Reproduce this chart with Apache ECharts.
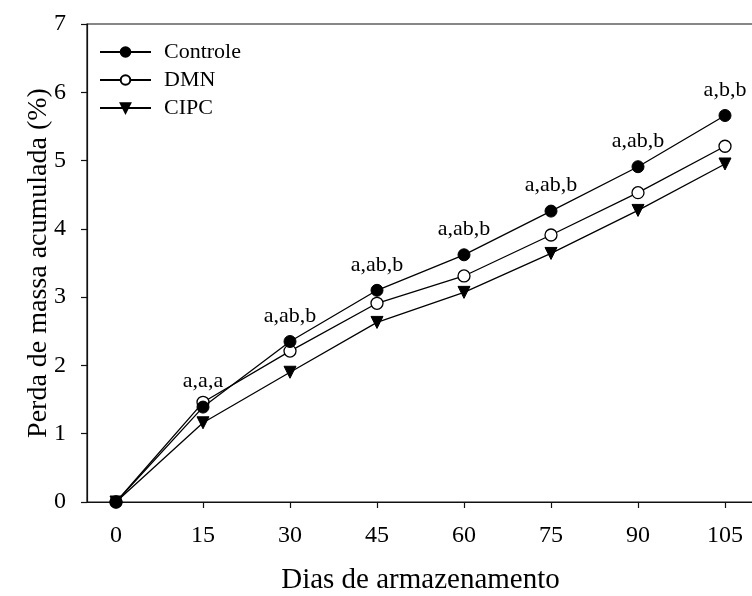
<!DOCTYPE html>
<html>
<head>
<meta charset="utf-8">
<script src="https://cdn.jsdelivr.net/npm/echarts@6/dist/echarts.min.js"></script>
<style>
  html, body { margin: 0; padding: 0; background: #fff; }
  #chart { width: 752px; height: 596px; }
</style>
</head>
<body>
<div id="chart"></div>
<script>
// Storage days and cumulative mass loss (%) per treatment
const days = [0, 15, 30, 45, 60, 75, 90, 105];
const controle = [0, 1.39, 2.35, 3.10, 3.62, 4.26, 4.91, 5.66];
const dmn = [0, 1.46, 2.21, 2.91, 3.31, 3.91, 4.53, 5.21];
const cipc = [0, 1.16, 1.90, 2.63, 3.07, 3.64, 4.27, 4.95];
// Significance letters shown above each storage day
const letters = ['', 'a,a,a', 'a,ab,b', 'a,ab,b', 'a,ab,b', 'a,ab,b', 'a,ab,b', 'a,b,b'];
const yTicks = [0, 1, 2, 3, 4, 5, 6, 7];

const FONT = 'Liberation Serif';
const pairs = arr => days.map((d, i) => [d, arr[i]]);

const chart = echarts.init(document.getElementById('chart'), null, { renderer: 'canvas' });

chart.setOption({
  animation: false,
  backgroundColor: '#fff',
  textStyle: { fontFamily: FONT, color: '#000' },
  grid: {
    left: 87, top: 24, right: -2, bottom: 94,
    outerBoundsMode: 'none',
    containLabel: false,
    show: true, borderColor: '#111', borderWidth: 1.2, backgroundColor: 'transparent'
  },
  legend: {
    orient: 'vertical',
    left: 99, top: 41, padding: 0,
    itemWidth: 51, itemHeight: 12, itemGap: 6,
    textStyle: { fontFamily: FONT, fontSize: 22, color: '#000', padding: [0, 0, 0, 8] },
    data: ['Controle', 'DMN', 'CIPC']
  },
  xAxis: {
    type: 'value',
    min: -5, max: 110,
    name: 'Dias de armazenamento',
    nameLocation: 'middle',
    nameGap: 64,
    nameTextStyle: { fontFamily: FONT, fontSize: 29, color: '#000' },
    axisLine: { onZero: false, lineStyle: { color: '#111', width: 1.2 } },
    axisTick: { show: true, inside: false, length: 6, lineStyle: { color: '#111', width: 1.2 }, customValues: days },
    axisLabel: { fontFamily: FONT, fontSize: 24, color: '#000', margin: 22, customValues: days },
    splitLine: { show: false }
  },
  yAxis: {
    type: 'value',
    min: 0, max: 7, interval: 1,
    name: 'Perda de massa acumulada (%)',
    nameLocation: 'middle',
    nameGap: 34,
    nameMoveOverlap: false,
    nameTextStyle: { fontFamily: FONT, fontSize: 28, color: '#000' },
    axisLine: { show: true, onZero: false, lineStyle: { color: '#111', width: 1.2 } },
    axisTick: { show: true, inside: false, length: 6, lineStyle: { color: '#111', width: 1.2 } },
    axisLabel: { fontFamily: FONT, fontSize: 24, color: '#000', margin: 21, customValues: yTicks },
    splitLine: { show: false }
  },
  series: [
    {
      name: 'Controle',
      type: 'line',
      data: pairs(controle),
      symbol: 'circle', symbolSize: 12,
      lineStyle: { color: '#000', width: 1.3 },
      itemStyle: { color: '#000', borderColor: '#000', borderWidth: 1 },
      label: {
        show: true, position: 'top', distance: 8,
        fontFamily: FONT, fontSize: 22, color: '#000',
        formatter: p => letters[p.dataIndex]
      },
      z: 4
    },
    {
      name: 'DMN',
      type: 'line',
      data: pairs(dmn),
      symbol: 'circle', symbolSize: 12,
      lineStyle: { color: '#000', width: 1.3 },
      itemStyle: { color: '#fff', borderColor: '#000', borderWidth: 1.3 },
      z: 3
    },
    {
      name: 'CIPC',
      type: 'line',
      data: pairs(cipc),
      symbol: 'triangle', symbolRotate: 180, symbolSize: 12,
      lineStyle: { color: '#000', width: 1.3 },
      itemStyle: { color: '#000', borderColor: '#000', borderWidth: 1 },
      z: 2
    }
  ]
});
</script>
</body>
</html>
